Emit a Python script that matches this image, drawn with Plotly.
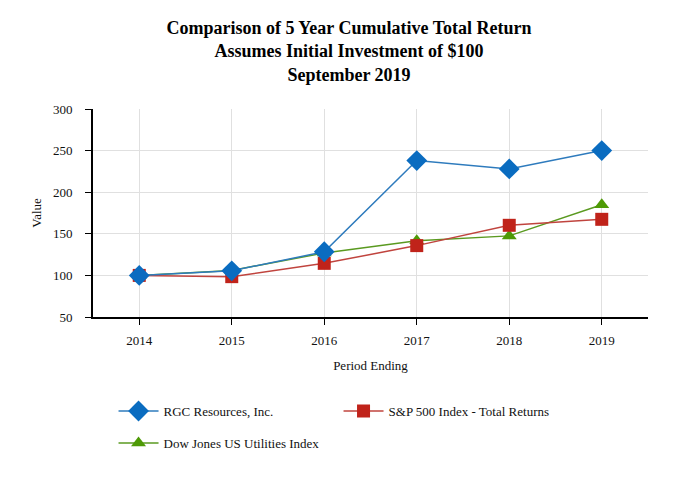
import plotly.graph_objects as go

years = ["2014", "2015", "2016", "2017", "2018", "2019"]
rgc = [100, 105.5, 128.4, 238.0, 228.0, 250.0]
sp500 = [100, 98.5, 114.5, 135.8, 160.2, 167.4]
dju = [100, 106.0, 127.0, 141.5, 147.5, 185.0]
yticks = [50, 100, 150, 200, 250, 300]

FONT = "Liberation Serif, Times New Roman, serif"

fig = go.Figure()
fig.add_trace(go.Scatter(
    x=years, y=dju, name="Dow Jones US Utilities Index", mode="lines+markers",
    line=dict(color="#5a9a20", width=1.5),
    marker=dict(symbol="triangle-up", size=13, color="#4e9a06"),
    legend="legend2",
))
fig.add_trace(go.Scatter(
    x=years, y=sp500, name="S&P 500 Index - Total Returns", mode="lines+markers",
    line=dict(color="#c0443e", width=1.5),
    marker=dict(symbol="square", size=13, color="#c0231a"),
    legend="legend", legendrank=2,
))
fig.add_trace(go.Scatter(
    x=years, y=rgc, name="RGC Resources, Inc.", mode="lines+markers",
    line=dict(color="#2e7bbd", width=1.5),
    marker=dict(symbol="diamond", size=16, color="#0a6cc0"),
    legend="legend", legendrank=1,
))

legend_common = dict(
    orientation="h", xanchor="left", yanchor="top",
    entrywidth=170, entrywidthmode="pixels",
    font=dict(family=FONT, size=13, color="#111"),
    itemwidth=40, bgcolor="rgba(0,0,0,0)",
)

fig.update_layout(
    width=682, height=480,
    margin=dict(l=85, r=42, t=101, b=171),
    paper_bgcolor="white", plot_bgcolor="white",
    font=dict(family=FONT, size=13, color="#111"),
    title=dict(
        text="<b>Comparison of 5 Year Cumulative Total Return<br>Assumes Initial Investment of $100<br>September 2019</b>",
        x=0.5, xanchor="center", y=0.946, yanchor="top",
        font=dict(family=FONT, size=18, color="#000"),
    ),
    showlegend=True,
    legend=dict(x=0.037, y=-0.38, **legend_common),
    legend2=dict(x=0.037, y=-0.534, **legend_common),
)
fig.update_xaxes(
    type="category", range=[-0.5, 5.5],
    showline=True, linecolor="#000", linewidth=2,
    showgrid=True, gridcolor="#e0e0e0", gridwidth=1,
    ticks="outside", ticklen=6, tickcolor="#000",
    ticklabelstandoff=4,
    title=dict(text="Period Ending", font=dict(family=FONT, size=13), standoff=14),
    tickfont=dict(family=FONT, size=13),
)
fig.update_yaxes(
    range=[50, 300], tickvals=yticks,
    showline=True, linecolor="#000", linewidth=2,
    showgrid=True, gridcolor="#e0e0e0", gridwidth=1,
    ticks="outside", ticklen=6, tickcolor="#000",
    ticklabelstandoff=10,
    zeroline=False,
    title=dict(text="Value", font=dict(family=FONT, size=13), standoff=8),
    tickfont=dict(family=FONT, size=13),
)

fig.write_html("out.html")
